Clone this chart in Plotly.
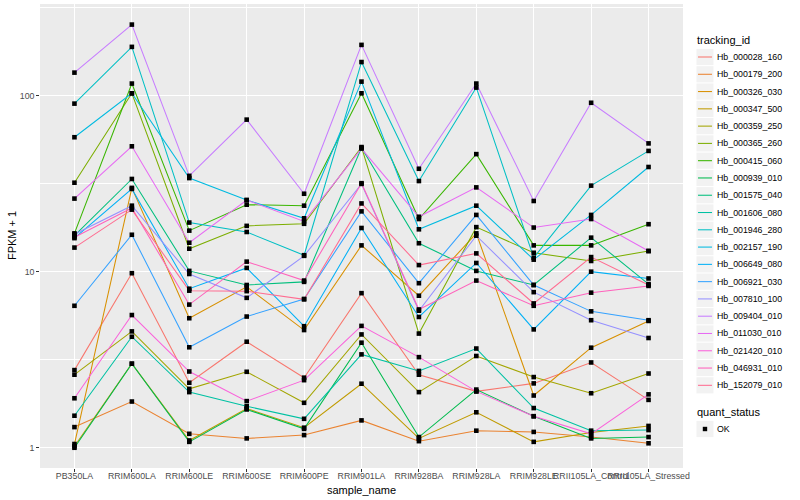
import plotly.graph_objects as go

categories = ["PB350LA", "RRIM600LA", "RRIM600LE", "RRIM600SE", "RRIM600PE",
              "RRIM901LA", "RRIM928BA", "RRIM928LA", "RRIM928LE",
              "RRII105LA_Control", "RRII105LA_Stressed"]

tracking_ids = ["Hb_000028_160", "Hb_000179_200", "Hb_000326_030", "Hb_000347_500",
                "Hb_000359_250", "Hb_000365_260", "Hb_000415_060", "Hb_000939_010",
                "Hb_001575_040", "Hb_001606_080", "Hb_001946_280", "Hb_002157_190",
                "Hb_006649_080", "Hb_006921_030", "Hb_007810_100", "Hb_009404_010",
                "Hb_011030_010", "Hb_021420_010", "Hb_046931_010", "Hb_152079_010"]

series_colors = ["#F8766D", "#EA8331", "#D89000", "#C09B00", "#A3A500", "#7CAE00",
                 "#39B600", "#00BB4E", "#00BF7D", "#00C1A3", "#00BFC4", "#00BAE0",
                 "#00B0F6", "#35A2FF", "#9590FF", "#C77CFF", "#E76BF3", "#FA62DB",
                 "#FF62BC", "#FF6C91"]

# FPKM + 1 per sample, in category order
hb_000028_160 = [2.76, 9.8, 2.34, 4.0, 2.5, 7.55, 2.6, 2.09, 2.32, 3.05, 1.87]
hb_000179_200 = [1.31, 1.83, 1.2, 1.13, 1.18, 1.43, 1.09, 1.25, 1.23, 1.15, 1.06]
hb_000326_030 = [1.05, 29.9, 5.44, 8.2, 4.66, 14.1, 7.3, 16.5, 1.98, 3.7, 5.25]
hb_000347_500 = [1.02, 3.0, 1.1, 1.67, 1.3, 2.31, 1.13, 1.59, 1.08, 1.22, 1.33]
hb_000359_250 = [2.6, 4.58, 2.16, 2.7, 1.8, 4.4, 2.07, 3.32, 2.52, 2.04, 2.64]
hb_000365_260 = [32, 103, 13.5, 18.2, 18.7, 51, 4.45, 17.9, 12.8, 11.5, 13.1]
hb_000415_060 = [16.5, 117, 17.1, 24, 23.7, 103, 19.9, 46.5, 14.1, 14.1, 18.6]
hb_000939_010 = [1.0, 3.0, 1.08, 1.65, 1.28, 3.95, 1.15, 2.14, 1.51, 1.13, 1.15]
hb_001575_040 = [16, 33.6, 10.1, 8.4, 8.75, 50.5, 14.5, 10.1, 8.4, 15.6, 8.5]
hb_001606_080 = [1.52, 4.27, 2.07, 1.72, 1.46, 3.39, 2.73, 3.66, 1.68, 1.25, 1.26]
hb_001946_280 = [90, 189, 19, 16.8, 12.4, 155, 32.7, 111, 12.0, 30.8, 48.5]
hb_002157_190 = [58, 103, 34, 25.5, 20.1, 120, 17.4, 23.7, 11.7, 21, 39.3]
hb_006649_080 = [15.5, 29.5, 8.0, 10.5, 4.9, 17.7, 5.53, 11.2, 4.7, 10.0, 9.15]
hb_006921_030 = [6.4, 16.2, 3.72, 5.56, 7.0, 22, 8.6, 21, 8.4, 5.95, 5.3]
hb_007810_100 = [16.3, 23.7, 9.7, 7.1, 12.3, 31.5, 6.0, 16.0, 7.65, 5.3, 4.2]
hb_009404_010 = [135, 253, 35, 73, 27.7, 194, 38.4, 117, 25.2, 91, 53.5]
hb_011030_010 = [26, 51.5, 14.6, 25.5, 19.3, 50, 20.5, 30.1, 17.8, 19.9, 13.1]
hb_021420_010 = [1.91, 5.67, 2.71, 1.84, 2.42, 4.92, 3.27, 2.09, 1.51, 1.2, 2.01]
hb_046931_010 = [15.7, 23.0, 6.5, 11.4, 8.9, 31.8, 6.1, 8.9, 6.4, 7.6, 8.3]
hb_152079_010 = [13.7, 22.5, 7.8, 7.75, 6.96, 24.4, 10.9, 12.7, 6.6, 12.1, 8.4]

all_series = [hb_000028_160, hb_000179_200, hb_000326_030, hb_000347_500,
              hb_000359_250, hb_000365_260, hb_000415_060, hb_000939_010,
              hb_001575_040, hb_001606_080, hb_001946_280, hb_002157_190,
              hb_006649_080, hb_006921_030, hb_007810_100, hb_009404_010,
              hb_011030_010, hb_021420_010, hb_046931_010, hb_152079_010]

quant_status_label = "OK"

FONT = "Liberation Sans, Arial, Helvetica, sans-serif"
W, H = 800, 500
PL, PR, PT, PB = 40, 683.5, 4, 468  # panel pixel box

fig = go.Figure()
for name, vals, col in zip(tracking_ids, all_series, series_colors):
    fig.add_trace(go.Scatter(x=categories, y=vals, mode="lines", name=name,
                             line=dict(color=col, width=1.05), showlegend=False))

px_x, px_y = [], []
for vals in all_series:
    px_x += categories
    px_y += vals
fig.add_trace(go.Scatter(x=px_x, y=px_y, mode="markers", name=quant_status_label,
                         marker=dict(symbol="square", size=4.6, color="black"),
                         showlegend=False))


def pxx(x):
    return (x - PL) / (PR - PL)


def pxy(y):
    return (PB - y) / (PB - PT)


shapes, annots = [], []
# legend: tracking_id
annots.append(dict(x=pxx(696), y=pxy(40), xref="paper", yref="paper", text="tracking_id",
                   showarrow=False, xanchor="left", yanchor="middle",
                   font=dict(family=FONT, size=11, color="black")))
step = 17.28
for i, (name, col) in enumerate(zip(tracking_ids, series_colors)):
    cy = 57 + step * i
    shapes.append(dict(type="rect", xref="paper", yref="paper",
                       x0=pxx(697), x1=pxx(714), y0=pxy(cy - 8.1), y1=pxy(cy + 8.1),
                       fillcolor="#F2F2F2", line=dict(width=0), layer="below"))
    shapes.append(dict(type="line", xref="paper", yref="paper",
                       x0=pxx(698.5), x1=pxx(712.5), y0=pxy(cy), y1=pxy(cy),
                       line=dict(color=col, width=1.05)))
    annots.append(dict(x=pxx(716), y=pxy(cy), xref="paper", yref="paper", text=name,
                       showarrow=False, xanchor="left", yanchor="middle",
                       font=dict(family=FONT, size=8.8, color="black")))
# legend: quant_status
annots.append(dict(x=pxx(696), y=pxy(412), xref="paper", yref="paper", text="quant_status",
                   showarrow=False, xanchor="left", yanchor="middle",
                   font=dict(family=FONT, size=11, color="black")))
shapes.append(dict(type="rect", xref="paper", yref="paper",
                   x0=pxx(697), x1=pxx(714), y0=pxy(429 - 8.1), y1=pxy(429 + 8.1),
                   fillcolor="#F2F2F2", line=dict(width=0), layer="below"))
shapes.append(dict(type="rect", xref="paper", yref="paper",
                   x0=pxx(703.3), x1=pxx(707.7), y0=pxy(431.2), y1=pxy(426.8),
                   fillcolor="black", line=dict(width=0)))
annots.append(dict(x=pxx(716), y=pxy(429), xref="paper", yref="paper", text=quant_status_label,
                   showarrow=False, xanchor="left", yanchor="middle",
                   font=dict(family=FONT, size=8.8, color="black")))
# axis titles
annots.append(dict(x=0.5, y=pxy(490), xref="paper", yref="paper", text="sample_name",
                   showarrow=False, xanchor="center", yanchor="middle",
                   font=dict(family=FONT, size=11, color="black")))
annots.append(dict(x=pxx(12), y=0.5, xref="paper", yref="paper", text="FPKM + 1",
                   showarrow=False, xanchor="center", yanchor="middle", textangle=-90,
                   font=dict(family=FONT, size=11, color="black")))

fig.update_layout(
    width=W, height=H, autosize=False,
    margin=dict(l=PL, r=W - PR, t=PT, b=H - PB, pad=0),
    paper_bgcolor="white", plot_bgcolor="#EBEBEB",
    showlegend=False,
    font=dict(family=FONT, size=8.8, color="#4D4D4D"),
    shapes=shapes, annotations=annots,
    xaxis=dict(type="category", categoryorder="array", categoryarray=categories,
               range=[-0.6, 10.6], showgrid=True, gridcolor="white", gridwidth=1.07,
               ticks="outside", ticklen=2.75, tickwidth=1.07, tickcolor="#333333",
               tickangle=0, automargin=False, ticklabelstandoff=-3,
               tickfont=dict(family=FONT, size=8.8, color="#4D4D4D"),
               zeroline=False, showline=False, fixedrange=True),
    yaxis=dict(type="log", range=[-0.115, 2.52], tickvals=[1, 10, 100],
               ticktext=["1", "10", "100"], showgrid=True, gridcolor="white",
               gridwidth=1.07, ticks="outside", ticklen=2.75, tickwidth=1.07,
               tickcolor="#333333", tickfont=dict(family=FONT, size=8.8, color="#4D4D4D"),
               automargin=False,
               minor=dict(tickmode="array", tickvals=[10 ** 0.5, 10 ** 1.5, 10 ** 2.5],
                          showgrid=True, gridcolor="white", gridwidth=0.53, ticks=""),
               zeroline=False, showline=False, fixedrange=True),
)

fig.write_html("out.html", config={"displayModeBar": False},
               post_script="document.body.style.margin='0';document.body.style.padding='0';"
                           "document.body.style.overflow='hidden';")
